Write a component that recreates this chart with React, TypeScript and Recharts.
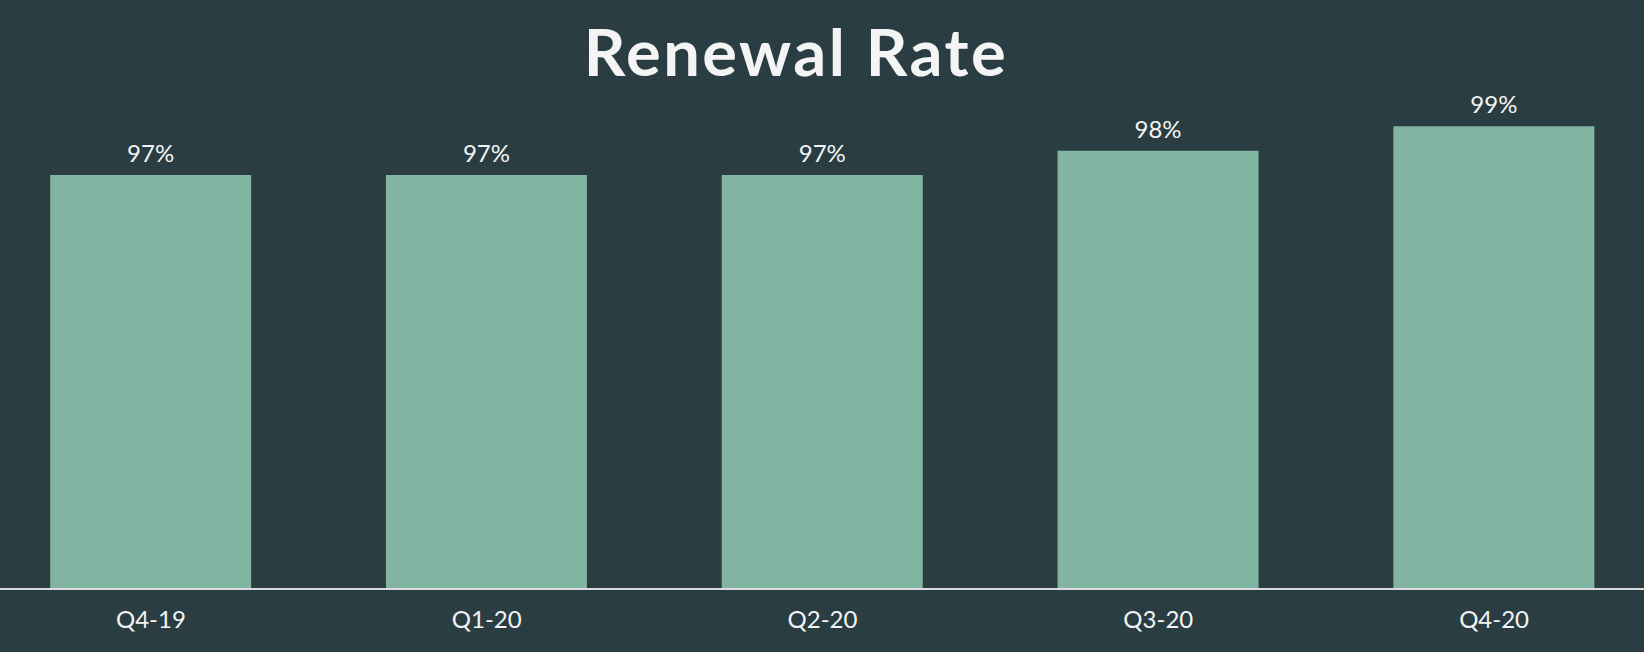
import React from 'react';
import { BarChart, Bar, XAxis, YAxis, LabelList } from 'recharts';

const quarters = ['Q4-19', 'Q1-20', 'Q2-20', 'Q3-20', 'Q4-20'];
const renewalRate = [97, 97, 97, 98, 99];
const rateDomain = [80, 100];

const chartData = quarters.map((q, i) => ({ quarter: q, rate: renewalRate[i] }));

const BG = '#293d42';
const BAR = '#81b4a1';
const TEXT = '#f4f4f4';

const App: React.FC = () => {
  return (
    <div
      style={{
        position: 'absolute',
        left: 0,
        top: 0,
        width: 1644,
        height: 652,
        background: BG,
        overflow: 'hidden',
        fontFamily: 'Lato, sans-serif',
      }}
    >
      <div
        style={{
          position: 'absolute',
          left: 0,
          top: 19,
          width: 1592,
          textAlign: 'center',
          fontSize: 65,
          lineHeight: '64px',
          fontWeight: 700,
          letterSpacing: 2.5,
          color: TEXT,
        }}
      >
        Renewal Rate
      </div>
      <BarChart
        width={1644}
        height={652}
        data={chartData}
        margin={{ top: 102, right: -18, left: -17, bottom: 0 }}
        barCategoryGap="20%"
        style={{ position: 'absolute', left: 0, top: 0 }}
      >
        <XAxis
          dataKey="quarter"
          height={63}
          tickLine={false}
          tickSize={0}
          tickMargin={22}
          axisLine={{ stroke: '#d9d9d9', strokeWidth: 2 }}
          tick={{ fill: TEXT, fontSize: 24, fontFamily: 'Lato, sans-serif' }}
        />
        <YAxis hide domain={rateDomain} />
        <Bar dataKey="rate" fill={BAR} isAnimationActive={false}>
          <LabelList
            dataKey="rate"
            position="top"
            offset={13}
            formatter={(v: number) => `${v}%`}
            style={{ fill: TEXT, fontSize: 24, fontFamily: 'Lato, sans-serif' }}
          />
        </Bar>
      </BarChart>
    </div>
  );
};

export default App;
